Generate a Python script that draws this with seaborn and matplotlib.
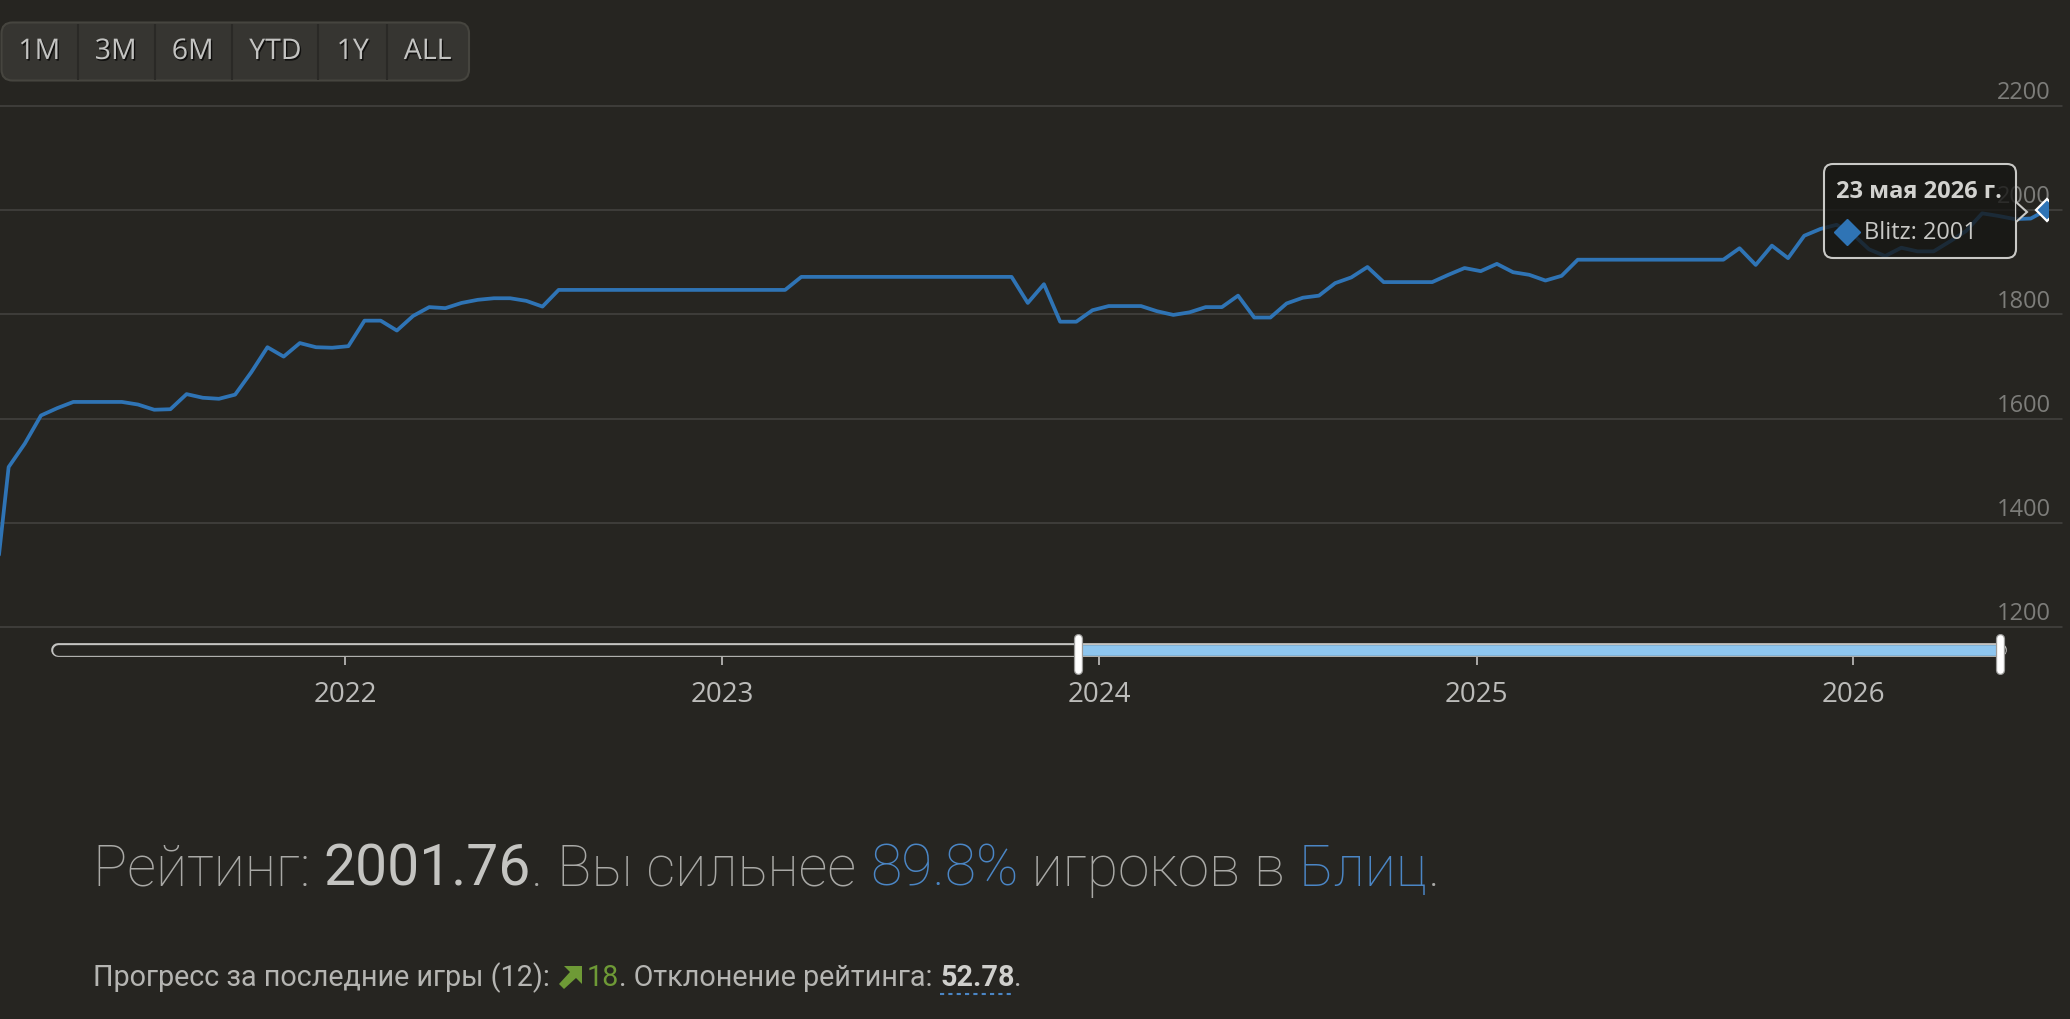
import matplotlib
matplotlib.use('Agg')
import pandas as pd
import matplotlib.pyplot as plt
import matplotlib.patheffects as pe
from matplotlib.patches import FancyBboxPatch, Polygon, Rectangle
import seaborn as sns

# Datos: rating de blitz, un punto cada 15 días
rating = [1224, 1507, 1552, 1606, 1620, 1632, 1632, 1632, 1632, 1627, 1617, 1618,
          1647, 1640, 1638, 1646, 1689, 1737, 1719, 1745, 1737, 1736, 1739, 1788,
          1788, 1769, 1797, 1814, 1812, 1822, 1828, 1831, 1831, 1826, 1815,
          1847, 1847, 1847, 1847, 1847, 1847, 1847, 1847, 1847, 1847, 1847, 1847,
          1847, 1847, 1847,
          1872, 1872, 1872, 1872, 1872, 1872, 1872, 1872, 1872, 1872, 1872, 1872,
          1872, 1872,
          1822, 1858, 1786, 1786, 1808, 1816, 1816, 1816, 1806, 1799, 1804, 1814,
          1814, 1836, 1794, 1794, 1821, 1832, 1836, 1860, 1871, 1891, 1862, 1862,
          1862, 1862, 1876, 1889, 1883, 1897, 1881, 1876, 1865, 1874,
          1905, 1905, 1905, 1905, 1905, 1905, 1905, 1905, 1905, 1905,
          1927, 1895, 1932, 1908, 1951, 1964, 1972, 1954, 1925, 1912, 1928, 1921,
          1921, 1940, 1960, 1994, 1989, 1983, 1984, 2001]
fechas = pd.date_range(end='2026-05-23', periods=len(rating), freq='15D')

ticks_y = [1200, 1400, 1600, 1800, 2000, 2200]
anios = pd.to_datetime(['2022-01-01', '2023-01-01', '2024-01-01', '2025-01-01', '2026-01-01'])
rango_nav = pd.to_datetime(['2021-03-28', '2026-05-23'])
seleccion = pd.to_datetime(['2023-12-12', '2026-05-23'])
botones = ['1M', '3M', '6M', 'YTD', '1Y', 'ALL']
tooltip_fecha = '23 мая 2026 г.'
tooltip_valor = 'Blitz: 2001'

# Colores
FONDO = '#262521'
REJILLA = '#454441'
AZUL = '#2f74b5'
AZUL_TXT = '#4b86c5'
VERDE = '#6e9a36'

sns.set_theme(style='dark', rc={'axes.facecolor': FONDO, 'figure.facecolor': FONDO})
plt.rcParams['font.family'] = ['Open Sans', 'DejaVu Sans']

W, H = 2070, 1020


def caja(x0, y0, x1, y1):
    # convierte píxeles (origen arriba-izquierda) a fracción de figura
    return [x0 / W, 1 - y1 / H, (x1 - x0) / W, (y1 - y0) / H]


fig = plt.figure(figsize=(W / 100, H / 100), dpi=100, facecolor=FONDO)

# -----------------------------------------------------------
# Gráfico principal
# -----------------------------------------------------------
ax = fig.add_axes(caja(0, 107, 2062, 628))
sns.lineplot(x=fechas, y=rating, ax=ax, color=AZUL, linewidth=2.7)
ax.plot(fechas[-1:], rating[-1:], marker='D', markersize=11, color=AZUL,
        markeredgecolor='white', markeredgewidth=1.6, linestyle='none', zorder=5)

recorte = Rectangle((0, -0.01), 2048 / 2062, 1.02, transform=ax.transAxes)
for linea in ax.lines:
    linea.set_clip_path(recorte)

ax.set_xlim(pd.Timestamp('2021-03-12'), pd.Timestamp('2026-06-06'))
ax.set_ylim(1200, 2200)
ax.set_yticks(ticks_y)
ax.set_xticks([])
ax.grid(axis='y', color=REJILLA, linewidth=1.1)
ax.grid(axis='x', visible=False)
for gl in ax.get_ygridlines():
    gl.set_clip_on(False)
ax.tick_params(length=0, labelleft=False, labelbottom=False)
ax.set_xlabel('')
ax.set_ylabel('')
for s in ax.spines.values():
    s.set_visible(False)

for v in ticks_y:
    ax.annotate(str(v), xy=(2051 / 2062, v), xycoords=('axes fraction', 'data'),
                xytext=(0, 10), textcoords='offset points', ha='right', va='center',
                fontsize=17, color='#7d7d7a', annotation_clip=False)

# -----------------------------------------------------------
# Navegador inferior
# -----------------------------------------------------------
nav = fig.add_axes(caja(57.5, 620, 2000, 720))
nav.set_xlim(rango_nav[0], rango_nav[1])
nav.set_ylim(720, 620)
nav.axis('off')

nav.plot(rango_nav, [651, 651], color='#c4c4c2', linewidth=9.9,
         solid_capstyle='round', clip_on=False)
nav.plot(rango_nav, [651, 651], color=FONDO, linewidth=7.7,
         solid_capstyle='round', clip_on=False)
nav.plot(seleccion, [651, 651], color='#8ec6ef', linewidth=7.7,
         solid_capstyle='butt', clip_on=False)
nav.vlines(anios, 658, 666, color='#b5b5b3', linewidth=1.3)
for a in anios:
    nav.text(a, 695, str(a.year), ha='center', va='center', fontsize=20, color='#bcbcba')
for d in seleccion:
    nav.plot([d, d], [638.5, 670.5], color='#9c9c9a', linewidth=6.6,
             solid_capstyle='round', clip_on=False)
    nav.plot([d, d], [638.5, 670.5], color='white', linewidth=4.8,
             solid_capstyle='round', clip_on=False)

# -----------------------------------------------------------
# Capa superior: botones, tooltip y textos
# -----------------------------------------------------------
ov = fig.add_axes([0, 0, 1, 1])
ov.set_xlim(0, W)
ov.set_ylim(H, 0)
ov.axis('off')
ov.set_zorder(10)
ov.patch.set_alpha(0)

# botones de rango
ov.add_patch(FancyBboxPatch((1.5, 23.5), 467.5, 58,
                            boxstyle='round,pad=0,rounding_size=11',
                            facecolor='#363531', edgecolor='#46453f', linewidth=1.5))
ov.vlines([77.7, 155.3, 232.3, 318.3, 386.7], 24.5, 80.5, color='#2a2926', linewidth=1.5)
centros_botones = [39.3, 115.7, 192.7, 275.3, 352.7, 427.7]
for b, cx in zip(botones, centros_botones):
    ov.text(cx, 53, b, ha='center', va='center', fontsize=20.5, color='#c3c3c1',
            path_effects=[pe.withSimplePatchShadow(offset=(1, -1.2), shadow_rgbFace='black', alpha=0.7)])

# tooltip
GRIS_TT = '#c9c9c6'
ov.add_patch(FancyBboxPatch((1824, 165), 192, 94, boxstyle='round,pad=0,rounding_size=9',
                            facecolor=(0.085, 0.085, 0.078, 0.78), edgecolor=GRIS_TT,
                            linewidth=1.5))
ov.add_patch(Polygon([(2016, 203), (2027, 213), (2016, 223)], closed=False,
                     facecolor=(0.085, 0.085, 0.078, 0.78), edgecolor=GRIS_TT, linewidth=1.5))
ov.text(1836, 192, tooltip_fecha, ha='left', va='center', fontsize=17,
        fontweight='bold', color='#d2d2cf')
ov.plot([1847.3], [233], marker='D', markersize=13, color=AZUL, linestyle='none')
ov.text(1863.5, 233, tooltip_valor, ha='left', va='center', fontsize=17, color='#c8c8c5')

# textos inferiores, escritos por trozos de distinto color
ren = fig.canvas.get_renderer()


def avance(txt, **kw):
    a = ov.text(0, 0, 'H' + txt + 'H', **kw)
    b = ov.text(0, 0, 'HH', **kw)
    w = a.get_window_extent(ren).width - b.get_window_extent(ren).width
    a.remove()
    b.remove()
    return w


def escribir(x, y, partes, size, familia):
    for txt, color, peso in partes:
        kw = dict(fontsize=size, fontweight=peso, family=familia)
        ov.text(x, y, txt, color=color, va='baseline', ha='left', **kw)
        x0 = x
        x += avance(txt, **kw)
    return x0, x


GRIS = '#a9a9a6'
CLARO = '#c4c4c1'
fam = ['Roboto', 'DejaVu Sans']
escribir(93, 886, [('Рейтинг: ', GRIS, 'light'), ('2001.76', CLARO, 'normal'),
                   ('. Вы сильнее ', GRIS, 'light'), ('89.8%', AZUL_TXT, 'light'),
                   (' игроков в ', GRIS, 'light'), ('Блиц', AZUL_TXT, 'light'),
                   ('.', GRIS, 'light')], 41, fam)

_, xf = escribir(93, 986, [('Прогресс за последние игры (12): ', '#b5b5b2', 'normal')], 20.7, fam)
flecha = [(23, 0), (23, 18), (17, 12), (5, 23), (0, 18), (11, 6), (5, 0)]
xi = xf + 2
ov.add_patch(Polygon([(xi + px, 967 + py) for px, py in flecha], closed=True,
                     facecolor=VERDE, edgecolor='none'))
_, xf = escribir(xi + 28, 986, [('18', VERDE, 'normal'),
                                ('. Отклонение рейтинга: ', '#b5b5b2', 'normal')], 20.7, fam)
x0, x1 = escribir(xf, 986, [('52.78', '#cfcfcc', 'bold')], 20.7, fam)
escribir(x1, 986, [('.', '#b5b5b2', 'normal')], 20.7, fam)
ov.plot([x0, x1], [995, 995], color=AZUL_TXT, linewidth=1.5, linestyle=(0, (2, 2)))

fig.savefig('out.png', dpi=100, facecolor=FONDO)
